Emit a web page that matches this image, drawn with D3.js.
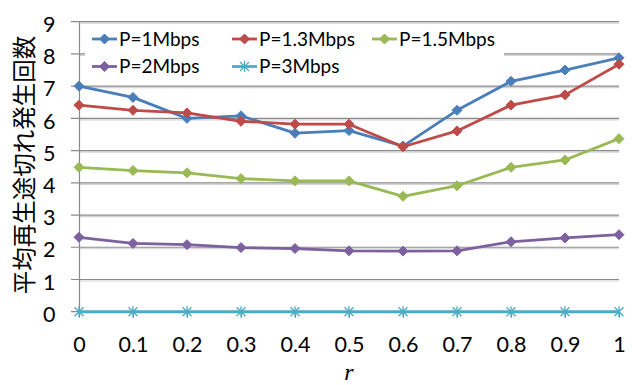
<!DOCTYPE html>
<html><head><meta charset="utf-8">
<script src="https://cdn.jsdelivr.net/npm/d3@7"></script>
<style>body{margin:0;background:#fff}svg{display:block}</style>
</head><body>
<svg id="chart" width="636" height="385"></svg>
<script>
// Category values of r along the x axis
const rValues = [0, 0.1, 0.2, 0.3, 0.4, 0.5, 0.6, 0.7, 0.8, 0.9, 1];
const rLabels = ["0", "0.1", "0.2", "0.3", "0.4", "0.5", "0.6", "0.7", "0.8", "0.9", "1"];
const yTicks = [0, 1, 2, 3, 4, 5, 6, 7, 8, 9];

// Mean number of playback stalls per bitrate P
const p1   = [7.00, 6.65, 6.00, 6.08, 5.54, 5.62, 5.14, 6.25, 7.15, 7.50, 7.88];
const p13  = [6.41, 6.25, 6.17, 5.91, 5.82, 5.82, 5.12, 5.61, 6.41, 6.73, 7.68];
const p15  = [4.48, 4.38, 4.31, 4.13, 4.06, 4.06, 3.58, 3.91, 4.48, 4.71, 5.37];
const p2   = [2.31, 2.12, 2.08, 1.99, 1.96, 1.89, 1.88, 1.89, 2.17, 2.29, 2.39];
const p3   = [0, 0, 0, 0, 0, 0, 0, 0, 0, 0, 0];

const seriesNames = ["P=1Mbps", "P=1.3Mbps", "P=1.5Mbps", "P=2Mbps", "P=3Mbps"];
const seriesColors = ["#4A7EBB", "#BE4B48", "#98B954", "#7D60A0", "#4BACC6"];
const seriesMarkers = ["diamond", "diamond", "diamond", "diamond", "asterisk"];
const seriesData = [p1, p13, p15, p2, p3];

const svg = d3.select("#chart");
const font = "Lato, 'Liberation Sans', sans-serif";

const x = d3.scaleLinear().domain([0, 1]).range([79, 619]);
const y = d3.scaleLinear().domain([0, 9]).range([311.7, 21.7]);

// Horizontal gridlines
const grid = svg.append("g");
yTicks.forEach(t => {
  grid.append("line").attr("x1", 79).attr("x2", 619)
    .attr("y1", y(t) + 1.5).attr("y2", y(t) + 1.5)
    .attr("stroke", "#d4d4d4").attr("stroke-width", 1.2);
  grid.append("line").attr("x1", 71).attr("x2", 619)
    .attr("y1", y(t)).attr("y2", y(t))
    .attr("stroke", "#8a8a8a").attr("stroke-width", 1.2);
});

// Y axis
const yAxis = d3.axisLeft(y).tickValues(yTicks).tickSize(0).tickPadding(0);
const yg = svg.append("g").attr("transform", "translate(79,0)").call(yAxis);
yg.select(".domain").attr("stroke", "#8a8a8a").attr("stroke-width", 1.2);
yg.selectAll("text").attr("font-family", font).attr("font-size", 21.5)
  .attr("fill", "#000").attr("x", -23.5).attr("dy", "0.45em");

// X axis
const xAxis = d3.axisBottom(x).tickValues(rValues)
  .tickFormat((d, i) => rLabels[i]).tickSize(6).tickSizeOuter(0);
const xg = svg.append("g").attr("transform", `translate(0,${y(0)})`).call(xAxis);
xg.select(".domain").attr("stroke", "#8a8a8a").attr("stroke-width", 1.2);
xg.selectAll(".tick line").attr("stroke", "#8a8a8a").attr("stroke-width", 1.2);
xg.selectAll("text").attr("font-family", font).attr("font-size", 21.5)
  .attr("fill", "#000").attr("y", 32.5).attr("dy", "0.36em");

// Axis titles
svg.append("text").attr("x", 349).attr("y", 380)
  .attr("text-anchor", "middle").attr("font-family", "'Liberation Serif', serif")
  .attr("font-style", "italic").attr("font-size", 24).text("r");
svg.append("text")
  .attr("transform", "translate(33,165) rotate(-90)")
  .attr("text-anchor", "middle")
  .attr("font-family", "'Noto Sans CJK JP', sans-serif")
  .attr("font-size", 23.5).attr("fill", "#000")
  .text("平均再生途切れ発生回数");

// Marker drawing
function drawMarker(g, type, color, cx, cy) {
  if (type === "diamond") {
    const s = 5;
    g.append("path")
      .attr("d", `M${cx},${cy - s}L${cx + s},${cy}L${cx},${cy + s}L${cx - s},${cy}Z`)
      .attr("fill", color).attr("stroke", color).attr("stroke-width", 1);
  } else {
    const s = 4.5;
    g.append("path")
      .attr("d", `M${cx - s},${cy - s}L${cx + s},${cy + s}M${cx - s},${cy + s}L${cx + s},${cy - s}M${cx},${cy - s - 1}L${cx},${cy + s + 1}`)
      .attr("stroke", color).attr("stroke-width", 1.3).attr("fill", "none");
  }
}

// Series lines and markers
const line = d3.line().x((d, i) => x(rValues[i])).y(d => y(d));
seriesData.forEach((vals, k) => {
  const g = svg.append("g");
  g.append("path").datum(vals).attr("d", line)
    .attr("fill", "none").attr("stroke", seriesColors[k])
    .attr("stroke-width", 2.8).attr("stroke-linejoin", "round");
  vals.forEach((v, i) => drawMarker(g, seriesMarkers[k], seriesColors[k], x(rValues[i]), y(v)));
});

// Legend
const legend = svg.append("g");
legend.append("rect").attr("x", 85).attr("y", 25).attr("width", 419).attr("height", 56)
  .attr("fill", "#fff");
const legendPos = [[92, 39], [232, 39], [372, 39], [92, 66.5], [232, 66.5]];
seriesNames.forEach((name, k) => {
  const [lx, ly] = legendPos[k];
  legend.append("line").attr("x1", lx).attr("x2", lx + 25).attr("y1", ly).attr("y2", ly)
    .attr("stroke", seriesColors[k]).attr("stroke-width", 2.8);
  drawMarker(legend, seriesMarkers[k], seriesColors[k], lx + 12.5, ly);
  legend.append("text").attr("x", lx + 27).attr("y", ly).attr("dy", "0.36em")
    .attr("font-family", font).attr("font-size", 19).attr("fill", "#000").text(name);
});
</script>
</body></html>
